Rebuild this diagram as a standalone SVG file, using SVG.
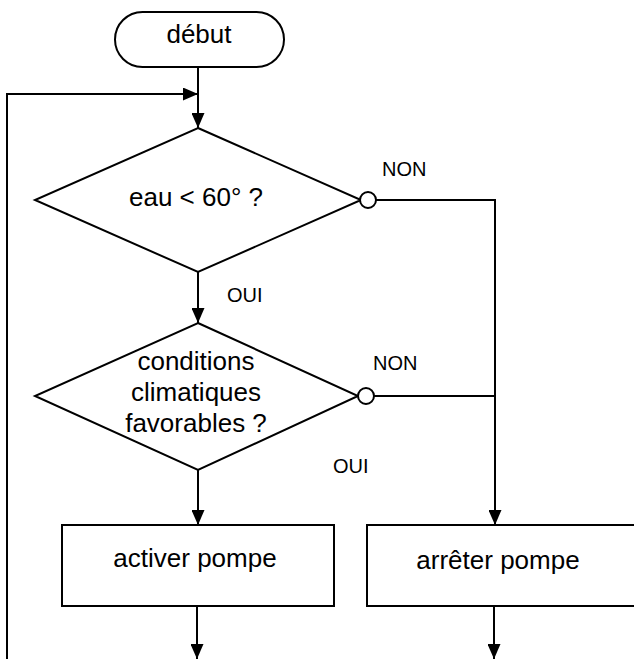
<svg xmlns="http://www.w3.org/2000/svg" width="634" height="659" viewBox="0 0 634 659">
<defs>
<style>
.s{fill:#fff;stroke:#000;stroke-width:2}
.l{fill:none;stroke:#000;stroke-width:2}
.t{font-family:"Liberation Sans",Arial,sans-serif;font-size:26px;fill:#000;text-anchor:middle}
.lb{font-family:"Liberation Sans",Arial,sans-serif;font-size:20px;fill:#000}
</style>
<marker id="ah" markerWidth="15" markerHeight="13" refX="15" refY="6.5" orient="auto" markerUnits="userSpaceOnUse">
<path d="M0,0 L15,6.5 L0,13 Z" fill="#000"/>
</marker>
</defs>
<g id="connectors">
<line class="l" x1="198" y1="67" x2="198" y2="128" marker-end="url(#ah)"/>
<polyline class="l" points="7,659 7,94 198,94" marker-end="url(#ah)"/>
<line class="l" x1="198" y1="272" x2="198" y2="323" marker-end="url(#ah)"/>
<polyline class="l" points="376,200 495,200 495,525" marker-end="url(#ah)"/>
<line class="l" x1="374" y1="396" x2="495" y2="396"/>
<line class="l" x1="198" y1="470" x2="198" y2="525" marker-end="url(#ah)"/>
<line class="l" x1="197" y1="606" x2="197" y2="659" marker-end="url(#ah)"/>
<line class="l" x1="494" y1="606" x2="494" y2="659" marker-end="url(#ah)"/>
</g>
<g id="debut">
<rect class="s" x="115" y="12" width="169" height="55" rx="27.5" ry="27.5"/>
<text class="t" x="199" y="43">début</text>
</g>
<g id="decision1">
<polygon class="s" points="198,128 361,200 198,272 35,200"/>
<circle class="s" cx="368" cy="200" r="8"/>
<text class="t" x="196" y="206">eau &lt; 60° ?</text>
<text class="lb" x="382" y="176">NON</text>
<text class="lb" x="227" y="302">OUI</text>
</g>
<g id="decision2">
<polygon class="s" points="198,323 358,396 198,470 35,396"/>
<circle class="s" cx="366" cy="396" r="8"/>
<text class="t" x="196" y="370">conditions</text>
<text class="t" x="196" y="401">climatiques</text>
<text class="t" x="196" y="432">favorables ?</text>
<text class="lb" x="373" y="370">NON</text>
<text class="lb" x="333" y="473">OUI</text>
</g>
<g id="activer">
<rect class="s" x="62" y="525" width="272" height="81"/>
<text class="t" x="195" y="567">activer pompe</text>
</g>
<g id="arreter">
<rect class="s" x="367" y="525" width="280" height="81"/>
<text class="t" x="498" y="569">arrêter pompe</text>
</g>
</svg>
